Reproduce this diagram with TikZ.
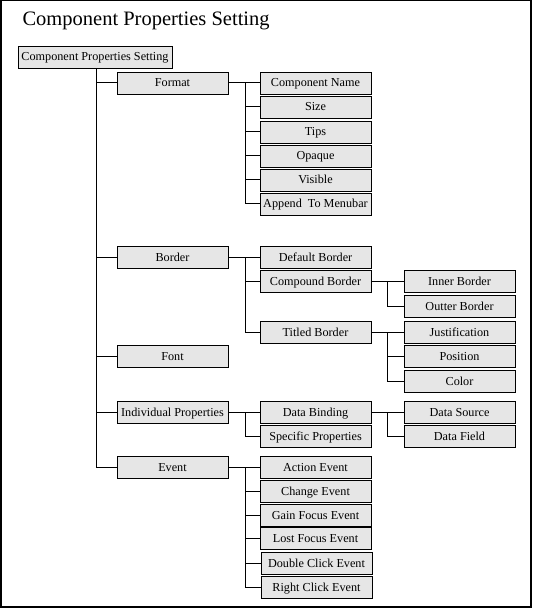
\documentclass[tikz,border=0pt]{standalone}
\usepackage{fontspec}
\setmainfont{Liberation Serif}
\begin{document}
\begin{tikzpicture}[x=1pt,y=-1pt,
  box/.style={draw=black,line width=0.9pt,fill=boxgrey,minimum width=111pt,minimum height=22pt,
    inner sep=0pt,text height=8pt,text depth=0pt,font=\fontsize{12.2}{14}\selectfont},
  link/.style={draw=black,line width=1pt}]
\definecolor{boxgrey}{HTML}{E6E6E6}
\useasboundingbox (0,0) rectangle (533,609);
% outer frame
\draw[line width=1.5pt] (0.75,0.75) rectangle (531,607);
\draw[line width=1pt] (531.8,0.75) -- (531.8,607.8) -- (0.75,607.8);
% title
\node[anchor=west,font=\fontsize{20.5}{24}\selectfont] (title) at (19,21) {Component Properties Setting};

% root
\node[box,minimum width=154pt] (root) at (95,57) {Component Properties Setting};

% first level
\node[box] (format) at (172.5,83) {Format};
\node[box] (border) at (172.5,257) {Border};
\node[box] (font) at (172.5,356) {Font};
\node[box] (indiv) at (172.5,412) {Individual Properties};
\node[box] (event) at (172.5,467) {Event};

% second level: format
\node[box] (cname) at (315.5,83) {Component Name};
\node[box] (size) at (315.5,107) {Size};
\node[box] (tips) at (315.5,132) {Tips};
\node[box] (opaque) at (315.5,156) {Opaque};
\node[box] (visible) at (315.5,180) {Visible};
\node[box] (append) at (315.5,204) {Append\ \ To Menubar};
% second level: border
\node[box] (defb) at (315.5,257) {Default Border};
\node[box] (compb) at (315.5,281.5) {Compound Border};
\node[box] (titb) at (315.5,332) {Titled Border};
% second level: individual
\node[box] (datab) at (315.5,412) {Data Binding};
\node[box] (specp) at (315.5,436) {Specific Properties};
% second level: event
\node[box] (action) at (315.5,467) {Action Event};
\node[box] (change) at (315.5,491) {Change Event};
\node[box] (gain) at (315.5,515) {Gain Focus Event};
\node[box] (lost) at (315.5,538.5) {Lost Focus Event};
\node[box] (dbl) at (316.5,563) {Double Click Event};
\node[box] (right) at (316.5,587) {Right Click Event};

% third level
\node[box] (inner) at (459.5,281.5) {Inner Border};
\node[box] (outer) at (459.5,306) {Outter Border};
\node[box] (just) at (459.5,332) {Justification};
\node[box] (pos) at (459.5,356) {Position};
\node[box] (color) at (459.5,381) {Color};
\node[box] (dsrc) at (459.5,412) {Data Source};
\node[box] (dfld) at (459.5,436) {Data Field};

% bus positions
\coordinate (b2) at (245,0);
\coordinate (b3) at (387,0);

% trunk from the root
\draw[link] (root.south -| 96,0) -- (96,0 |- event.west) -- (event.west);
\foreach \n in {format,border,font,indiv}
  \draw[link] (96,0 |- \n.west) -- (\n.west);

% format branch
\draw[link] (format.east) -- (cname.west);
\draw[link] (b2 |- format.east) |- (append.west);
\foreach \n in {size,tips,opaque,visible}
  \draw[link] (b2 |- \n.west) -- (\n.west);

% border branch
\draw[link] (border.east) -- (defb.west);
\draw[link] (b2 |- border.east) |- (titb.west);
\draw[link] (b2 |- compb.west) -- (compb.west);
\draw[link] (compb.east) -- (inner.west);
\draw[link] (b3 |- compb.east) |- (outer.west);
\draw[link] (titb.east) -- (just.west);
\draw[link] (b3 |- titb.east) |- (color.west);
\draw[link] (b3 |- pos.west) -- (pos.west);

% individual properties branch
\draw[link] (indiv.east) -- (datab.west);
\draw[link] (b2 |- indiv.east) |- (specp.west);
\draw[link] (datab.east) -- (dsrc.west);
\draw[link] (b3 |- datab.east) |- (dfld.west);

% event branch
\draw[link] (event.east) -- (action.west);
\draw[link] (b2 |- event.east) |- (right.west);
\foreach \n in {change,gain,lost,dbl}
  \draw[link] (b2 |- \n.west) -- (\n.west);
\end{tikzpicture}
\end{document}
